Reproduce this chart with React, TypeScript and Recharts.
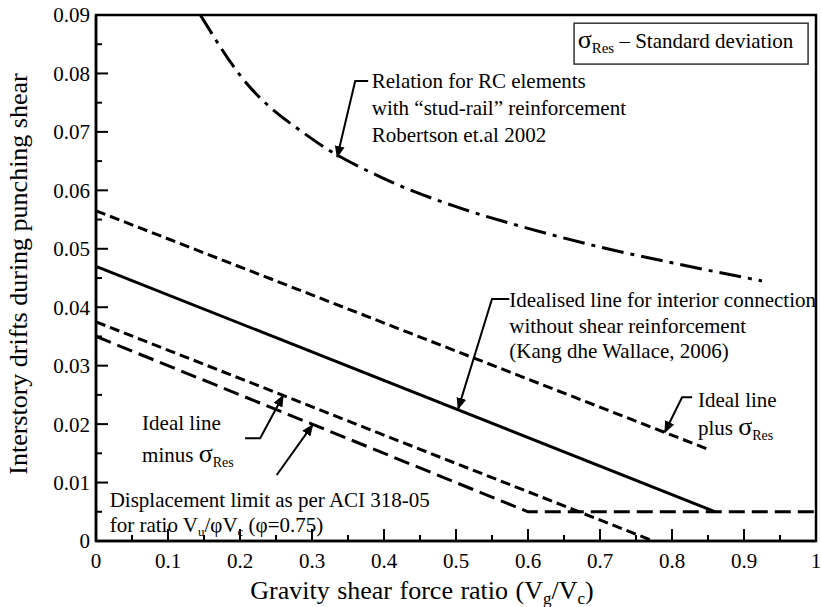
import React from 'react';
import { LineChart, Line, XAxis, YAxis } from 'recharts';

const W = 821;
const H = 607;
const FONT = 'Liberation Serif, Tinos, DejaVu Serif, serif';

// axis ticks
const xTicks = [0, 0.1, 0.2, 0.3, 0.4, 0.5, 0.6, 0.7, 0.8, 0.9, 1];
const xMinorTicks = [0.05, 0.15, 0.25, 0.35, 0.45, 0.55, 0.65, 0.75, 0.85, 0.95];
const yTicks = [0, 0.01, 0.02, 0.03, 0.04, 0.05, 0.06, 0.07, 0.08, 0.09];
const yMinorTicks = [0.005, 0.015, 0.025, 0.035, 0.045, 0.055, 0.065, 0.075, 0.085];

// idealised line (Kang & Wallace 2006)
const idealRatio = [0, 0.86];
const idealDrift = [0.047, 0.005];
// ideal line plus sigma
const plusRatio = [0, 0.85];
const plusDrift = [0.0565, 0.0157];
// ideal line minus sigma
const minusRatio = [0, 0.774];
const minusDrift = [0.0375, 0];
// ACI 318-05 limit
const aciRatio = [0, 0.6, 1];
const aciDrift = [0.035, 0.005, 0.005];
// stud-rail relation (Robertson 2002)
const studRatio = [0.145, 0.2, 0.3, 0.4, 0.5, 0.6, 0.7, 0.8, 0.925];
const studDrift = [0.09, 0.0797, 0.0688, 0.062, 0.0572, 0.0535, 0.0503, 0.0476, 0.0445];

const toPoints = (xs: number[], ys: number[]) => xs.map((x, i) => ({ x, y: ys[i] }));

// plot area (must match chart margins / axis sizes below)
const PLOT = { left: 96, top: 15, right: 816, bottom: 541 };
const sx = (v: number) => PLOT.left + v * (PLOT.right - PLOT.left);
const sy = (v: number) => PLOT.bottom - (v / 0.09) * (PLOT.bottom - PLOT.top);

const Arrow = ({ pts }: { pts: [number, number][] }) => (
  <polyline
    points={pts.map(([x, y]) => `${sx(x)},${sy(y)}`).join(' ')}
    fill="none"
    stroke="#000"
    strokeWidth={2}
    markerEnd="url(#head)"
  />
);

function Annotations() {
  const txt = { fontFamily: FONT, fontSize: 21, fill: '#000' };
  return (
    <svg width={W} height={H} style={{ position: 'absolute', left: 0, top: 0, pointerEvents: 'none' }}>
      <defs>
        <marker id="head" viewBox="0 0 12 10" refX="11" refY="5" markerWidth="12" markerHeight="10" markerUnits="userSpaceOnUse" orient="auto">
          <path d="M0,0 L12,5 L0,10 z" fill="#000" />
        </marker>
      </defs>

      {/* minor ticks (inside) */}
      {xMinorTicks.map((v) => (
        <line key={`xm${v}`} x1={sx(v)} x2={sx(v)} y1={PLOT.bottom} y2={PLOT.bottom - 6} stroke="#000" strokeWidth={2} />
      ))}
      {yMinorTicks.map((v) => (
        <line key={`ym${v}`} x1={PLOT.left} x2={PLOT.left + 6} y1={sy(v)} y2={sy(v)} stroke="#000" strokeWidth={2} />
      ))}

      {/* legend box */}
      <rect x={sx(0.664)} y={sy(0.0886)} width={sx(0.989) - sx(0.664)} height={sy(0.0816) - sy(0.0886)} fill="#fff" stroke="#333" strokeWidth={1.5} />
      <text x={sx(0.669)} y={sy(0.0843)} {...txt}>
        <tspan fontSize={26}>σ</tspan>
        <tspan fontSize={15} dy={5}>Res</tspan>
        <tspan dy={-5}> – Standard deviation</tspan>
      </text>

      {/* Robertson */}
      <text {...txt}>
        <tspan x={sx(0.383)} y={sy(0.0775)}>Relation for RC elements</tspan>
        <tspan x={sx(0.383)} y={sy(0.0729)}>with “stud-rail” reinforcement</tspan>
        <tspan x={sx(0.383)} y={sy(0.0683)}>Robertson et.al 2002</tspan>
      </text>
      <Arrow pts={[[0.378, 0.0787], [0.36, 0.0787], [0.335, 0.0657]]} />

      {/* Idealised line */}
      <text {...txt}>
        <tspan x={sx(0.574)} y={sy(0.04)}>Idealised line for interior connection</tspan>
        <tspan x={sx(0.574)} y={sy(0.0356)}>without shear reinforcement</tspan>
        <tspan x={sx(0.574)} y={sy(0.0313)}>(Kang dhe Wallace, 2006)</tspan>
      </text>
      <Arrow pts={[[0.574, 0.0414], [0.55, 0.0414], [0.503, 0.0226]]} />

      {/* plus sigma */}
      <text {...txt}>
        <tspan x={sx(0.836)} y={sy(0.0229)}>Ideal line</tspan>
        <tspan x={sx(0.836)} y={sy(0.0181)}>plus </tspan>
        <tspan fontSize={26}>σ</tspan>
        <tspan fontSize={14} dy={5}>Res</tspan>
      </text>
      <Arrow pts={[[0.828, 0.0246], [0.814, 0.0246], [0.79, 0.0186]]} />

      {/* minus sigma */}
      <text {...txt}>
        <tspan x={sx(0.064)} y={sy(0.019)}>Ideal line</tspan>
        <tspan x={sx(0.064)} y={sy(0.0135)}>minus </tspan>
        <tspan fontSize={26}>σ</tspan>
        <tspan fontSize={14} dy={5}>Res</tspan>
      </text>
      <Arrow pts={[[0.207, 0.0176], [0.228, 0.0176], [0.26, 0.0249]]} />

      {/* ACI */}
      <text {...txt}>
        <tspan x={sx(0.019)} y={sy(0.0058)}>Displacement limit as per ACI  318-05</tspan>
        <tspan x={sx(0.019)} y={sy(0.0015)}>for ratio V</tspan>
        <tspan fontSize={13} dy={4}>u</tspan>
        <tspan dy={-4}>/φV</tspan>
        <tspan fontSize={13} dy={4}>c</tspan>
        <tspan dy={-4}> (φ=0.75)</tspan>
      </text>
      <Arrow pts={[[0.251, 0.0113], [0.301, 0.0199]]} />

      {/* plot frame */}
      <rect x={PLOT.left} y={PLOT.top} width={PLOT.right - PLOT.left} height={PLOT.bottom - PLOT.top} fill="none" stroke="#000" strokeWidth={2.5} />

      {/* axis titles */}
      <text x={422} y={599} textAnchor="middle" fontFamily={FONT} fontSize={26} wordSpacing={1} fill="#000">
        Gravity shear force ratio (V<tspan fontSize={17} dy={5}>g</tspan>
        <tspan dy={-5}>/V</tspan>
        <tspan fontSize={17} dy={5}>c</tspan>
        <tspan dy={-5}>)</tspan>
      </text>
      <text x={27} y={274} transform="rotate(-90 27 274)" textAnchor="middle" fontFamily={FONT} fontSize={26} fill="#000">
        Interstory drifts during punching shear
      </text>
    </svg>
  );
}

export default function App() {
  const tickStyle = { fill: '#000', fontSize: 21, fontFamily: FONT };
  return (
    <div style={{ position: 'absolute', left: 0, top: 0, width: W, height: H, background: '#fff', fontFamily: FONT }}>
      <LineChart width={W} height={H} margin={{ top: 15, right: 5, bottom: 0, left: 0 }}>
        <XAxis
          type="number"
          dataKey="x"
          domain={[0, 1]}
          ticks={xTicks}
          interval={0}
          height={66}
          tickSize={-12}
          tickMargin={24}
          tick={tickStyle}
          tickFormatter={(v: number) => String(v)}
          axisLine={{ stroke: '#000', strokeWidth: 2.5 }}
          tickLine={{ stroke: '#000', strokeWidth: 2 }}
        />
        <YAxis
          type="number"
          domain={[0, 0.09]}
          ticks={yTicks}
          interval={0}
          width={96}
          tickSize={-12}
          tickMargin={18}
          tick={tickStyle}
          tickFormatter={(v: number) => (v === 0 ? '0' : v.toFixed(2))}
          axisLine={{ stroke: '#000', strokeWidth: 2.5 }}
          tickLine={{ stroke: '#000', strokeWidth: 2 }}
        />
        <Line data={toPoints(studRatio, studDrift)} dataKey="y" type="monotone" dot={false} stroke="#000" strokeWidth={3} strokeDasharray="22 7 4 7" isAnimationActive={false} />
        <Line data={toPoints(plusRatio, plusDrift)} dataKey="y" type="linear" dot={false} stroke="#000" strokeWidth={3} strokeDasharray="10 5" isAnimationActive={false} />
        <Line data={toPoints(idealRatio, idealDrift)} dataKey="y" type="linear" dot={false} stroke="#000" strokeWidth={3} isAnimationActive={false} />
        <Line data={toPoints(minusRatio, minusDrift)} dataKey="y" type="linear" dot={false} stroke="#000" strokeWidth={3} strokeDasharray="10 5" isAnimationActive={false} />
        <Line data={toPoints(aciRatio, aciDrift)} dataKey="y" type="linear" dot={false} stroke="#000" strokeWidth={3} strokeDasharray="16 7" isAnimationActive={false} />
      </LineChart>
      <Annotations />
    </div>
  );
}
